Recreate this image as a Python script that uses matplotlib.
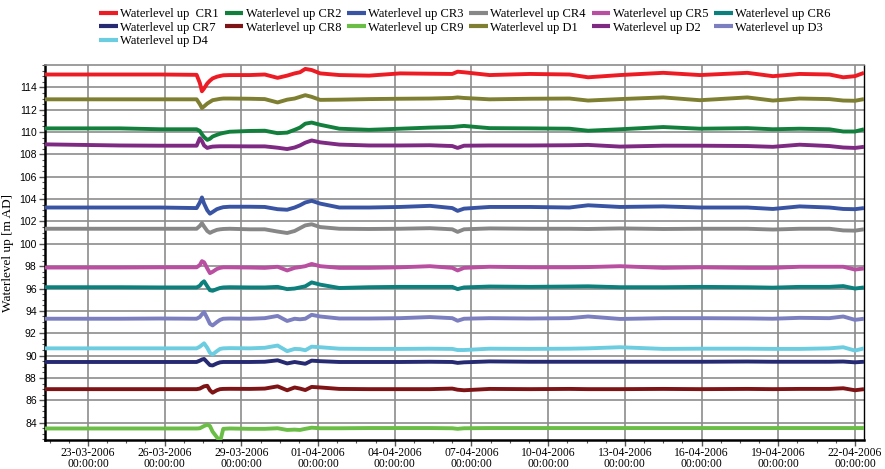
import matplotlib
matplotlib.use("Agg")
import matplotlib.pyplot as plt
import matplotlib.dates as mdates
from matplotlib.ticker import MultipleLocator, FixedLocator
import pandas as pd

# ---- data ----
times = [
    "2006-03-21 07:40", "2006-03-24 06:00", "2006-03-25 20:00", "2006-03-27 06:00",
    "2006-03-27 09:00", "2006-03-27 11:00", "2006-03-27 13:00", "2006-03-27 16:00",
    "2006-03-27 18:30", "2006-03-27 21:00", "2006-03-28 01:00", "2006-03-28 04:00",
    "2006-03-28 07:00", "2006-03-28 13:00", "2006-03-29 08:00", "2006-03-29 22:00",
    "2006-03-30 10:00", "2006-03-30 19:00", "2006-03-31 02:00", "2006-03-31 07:00",
    "2006-03-31 12:00", "2006-03-31 18:00", "2006-04-01 02:00", "2006-04-01 20:00",
    "2006-04-03 00:00", "2006-04-04 05:00", "2006-04-05 09:00", "2006-04-06 06:00",
    "2006-04-06 11:00", "2006-04-06 17:00", "2006-04-07 17:00", "2006-04-09 07:00",
    "2006-04-10 20:00", "2006-04-11 13:30", "2006-04-12 19:30", "2006-04-14 12:00",
    "2006-04-15 22:30", "2006-04-17 19:00", "2006-04-18 19:00", "2006-04-19 20:00",
    "2006-04-21 00:00", "2006-04-21 13:00", "2006-04-22 00:00", "2006-04-22 08:30",
]

cr1 = [115.15, 115.15, 115.15, 115.12, 114.4, 113.65, 113.9, 114.35, 114.6, 114.8, 114.95,
       115.02, 115.08, 115.1, 115.1, 115.15, 114.85, 115.05, 115.25, 115.35, 115.65, 115.55,
       115.25, 115.1, 115.05, 115.25, 115.22, 115.2, 115.4, 115.35, 115.1, 115.2, 115.15,
       114.9, 115.1, 115.3, 115.1, 115.3, 115.0, 115.2, 115.15, 114.9, 115.0, 115.3]
cr2 = [110.33, 110.33, 110.25, 110.25, 110.1, 109.8, 109.55, 109.3, 109.4, 109.6, 109.75,
       109.85, 109.92, 110.03, 110.1, 110.12, 109.9, 109.95, 110.2, 110.4, 110.75, 110.85,
       110.65, 110.3, 110.2, 110.3, 110.4, 110.45, 110.5, 110.55, 110.35, 110.33, 110.3,
       110.12, 110.25, 110.45, 110.3, 110.35, 110.25, 110.3, 110.25, 110.05, 110.05, 110.25]
cr3 = [103.25, 103.25, 103.25, 103.2, 103.7, 104.15, 103.6, 103.0, 102.7, 102.85, 103.1,
       103.2, 103.28, 103.32, 103.32, 103.3, 103.1, 103.05, 103.25, 103.45, 103.7, 103.85,
       103.6, 103.25, 103.25, 103.3, 103.4, 103.2, 102.95, 103.15, 103.3, 103.3, 103.25,
       103.45, 103.3, 103.35, 103.25, 103.25, 103.12, 103.35, 103.25, 103.12, 103.1, 103.2]
cr4 = [101.35, 101.35, 101.35, 101.35, 101.6, 101.85, 101.55, 101.15, 100.98, 101.1, 101.25,
       101.3, 101.33, 101.35, 101.3, 101.3, 101.1, 100.97, 101.15, 101.4, 101.65, 101.75,
       101.5, 101.35, 101.33, 101.35, 101.4, 101.3, 101.07, 101.3, 101.38, 101.35, 101.35,
       101.33, 101.38, 101.33, 101.35, 101.35, 101.28, 101.35, 101.35, 101.2, 101.18, 101.3]
cr5 = [97.88, 97.88, 97.9, 97.9, 98.1, 98.45, 98.35, 97.8, 97.38, 97.5, 97.75,
       97.85, 97.9, 97.9, 97.88, 97.85, 97.95, 97.62, 97.85, 97.92, 98.0, 98.2,
       98.0, 97.85, 97.85, 97.9, 98.0, 97.85, 97.62, 97.85, 97.95, 97.9, 97.9,
       97.92, 98.0, 97.85, 97.9, 97.85, 97.85, 97.95, 97.95, 97.95, 97.7, 97.8]
cr6 = [96.12, 96.12, 96.1, 96.1, 96.25, 96.5, 96.65, 96.2, 95.85, 95.8, 95.95,
       96.05, 96.1, 96.12, 96.1, 96.1, 96.15, 95.95, 96.0, 96.1, 96.2, 96.55,
       96.35, 96.05, 96.12, 96.15, 96.15, 96.15, 95.95, 96.1, 96.18, 96.15, 96.18,
       96.2, 96.12, 96.12, 96.15, 96.12, 96.08, 96.15, 96.15, 96.22, 96.0, 96.1]
cr7 = [89.43, 89.43, 89.43, 89.43, 89.55, 89.65, 89.7, 89.4, 89.15, 89.12, 89.3,
       89.4, 89.43, 89.43, 89.43, 89.45, 89.58, 89.3, 89.43, 89.35, 89.27, 89.55,
       89.5, 89.43, 89.43, 89.43, 89.45, 89.43, 89.35, 89.4, 89.48, 89.45, 89.45,
       89.45, 89.45, 89.45, 89.45, 89.47, 89.45, 89.45, 89.45, 89.47, 89.4, 89.45]
cr8 = [87.0, 87.0, 87.0, 87.0, 87.05, 87.15, 87.25, 87.3, 86.9, 86.68, 86.9,
       87.0, 87.02, 87.03, 87.02, 87.05, 87.25, 86.9, 87.15, 87.05, 86.92, 87.2,
       87.15, 87.02, 87.0, 87.0, 87.0, 87.05, 86.95, 86.9, 87.02, 87.0, 87.02,
       87.0, 87.0, 87.02, 87.0, 87.02, 87.0, 87.02, 87.02, 87.08, 86.9, 87.0]
cr9 = [83.48, 83.48, 83.48, 83.48, 83.5, 83.6, 83.7, 83.82, 83.7, 83.2, 82.7,
       82.3, 83.45, 83.48, 83.45, 83.45, 83.5, 83.35, 83.38, 83.35, 83.45, 83.55,
       83.5, 83.5, 83.52, 83.52, 83.52, 83.5, 83.45, 83.5, 83.52, 83.52, 83.52,
       83.52, 83.52, 83.52, 83.52, 83.52, 83.52, 83.52, 83.52, 83.52, 83.52, 83.52]
d1 = [112.93, 112.93, 112.93, 112.93, 112.5, 112.15, 112.3, 112.55, 112.7, 112.85, 112.92,
      112.97, 113.0, 113.0, 112.98, 112.95, 112.65, 112.9, 113.0, 113.15, 113.3, 113.15,
      112.88, 112.9, 112.95, 112.98, 113.0, 113.05, 113.1, 113.05, 112.93, 112.98, 113.0,
      112.82, 112.95, 113.1, 112.85, 113.1, 112.82, 113.0, 112.95, 112.82, 112.8, 112.95]
d2 = [108.9, 108.8, 108.78, 108.78, 109.45, 109.2, 108.8, 108.58, 108.65, 108.7, 108.72,
      108.73, 108.73, 108.73, 108.72, 108.72, 108.6, 108.48, 108.62, 108.8, 109.05, 109.25,
      109.08, 108.88, 108.8, 108.8, 108.82, 108.75, 108.58, 108.78, 108.8, 108.8, 108.82,
      108.85, 108.7, 108.78, 108.78, 108.75, 108.68, 108.87, 108.75, 108.62, 108.58, 108.68]
d3 = [93.3, 93.3, 93.32, 93.3, 93.45, 93.7, 93.9, 93.35, 92.85, 92.7, 93.0,
      93.2, 93.3, 93.32, 93.3, 93.35, 93.55, 93.1, 93.3, 93.25, 93.3, 93.65,
      93.5, 93.32, 93.32, 93.35, 93.45, 93.35, 93.12, 93.3, 93.35, 93.32, 93.35,
      93.5, 93.28, 93.35, 93.35, 93.33, 93.3, 93.38, 93.35, 93.5, 93.2, 93.3]
d4 = [90.65, 90.65, 90.65, 90.65, 90.8, 90.95, 91.1, 90.7, 90.25, 90.1, 90.4,
      90.6, 90.65, 90.67, 90.65, 90.7, 90.9, 90.4, 90.6, 90.58, 90.48, 90.8,
      90.75, 90.62, 90.6, 90.6, 90.62, 90.6, 90.5, 90.5, 90.62, 90.6, 90.62,
      90.65, 90.75, 90.6, 90.62, 90.62, 90.6, 90.6, 90.65, 90.75, 90.45, 90.65]

labels = ["Waterlevel up  CR1", "Waterlevel up CR2", "Waterlevel up CR3",
          "Waterlevel up CR4", "Waterlevel up CR5", "Waterlevel up CR6",
          "Waterlevel up CR7", "Waterlevel up CR8", "Waterlevel up CR9",
          "Waterlevel up D1", "Waterlevel up D2", "Waterlevel up D3",
          "Waterlevel up D4"]
series = [cr1, cr2, cr3, cr4, cr5, cr6, cr7, cr8, cr9, d1, d2, d3, d4]
colors = ["#ed1c24", "#12803c", "#3a54a4", "#878787", "#b94fa0", "#0b807c",
          "#252a72", "#7e1416", "#6abd45", "#7f7f32", "#7e2a82", "#7b7fc0", "#6ccde0"]

y_label = "Waterlevel up [m AD]"
y_ticks = list(range(84, 116, 2))

# ---- figure ----
W, H = 885, 469
fig = plt.figure(figsize=(W / 100, H / 100), dpi=100)
ax = fig.add_axes([45 / W, 29 / H, (864 - 45) / W, (440 - 65) / H])

x = pd.to_datetime(times)
handles = {}
for lab, vals, col in zip(labels, series, colors):
    (ln,) = ax.plot(x, vals, color=col, lw=2.8, solid_joinstyle="round",
                    solid_capstyle="butt", zorder=3)
    handles[lab] = ln

ax.set_xlim(pd.Timestamp("2006-03-21 07:40"), pd.Timestamp("2006-04-22 08:30"))
ax.set_ylim(82.45, 116.0)

major_x = pd.date_range("2006-03-23", "2006-04-22", freq="3D")
minor_x = pd.date_range("2006-03-21 12:00", "2006-04-22 06:00", freq="18h")
ax.xaxis.set_major_locator(FixedLocator(mdates.date2num(major_x)))
ax.xaxis.set_minor_locator(FixedLocator(mdates.date2num(minor_x)))
ax.xaxis.set_major_formatter(mdates.DateFormatter("%d-%m-%Y\n%H:%M:%S"))
ax.yaxis.set_major_locator(FixedLocator(y_ticks))
ax.yaxis.set_minor_locator(MultipleLocator(0.5))

serif = ["Liberation Serif", "DejaVu Serif"]
for lbl in ax.get_xticklabels():
    lbl.set_fontfamily(serif)
    lbl.set_fontsize(8.4)
    lbl.set_linespacing(0.9)
for lbl in ax.get_yticklabels():
    lbl.set_fontfamily(["Liberation Sans", "DejaVu Sans"])
    lbl.set_fontsize(7.5)

ax.tick_params(axis="both", which="major", direction="out", length=4, width=1, color="#555555", pad=2)
ax.tick_params(axis="both", which="minor", direction="out", length=2, width=0.8, color="#555555")
ax.tick_params(axis="x", which="major", pad=1)

ax.grid(True, which="major", color="#8c8c8c", lw=1.2, zorder=1)

for side in ("left", "bottom"):
    ax.spines[side].set_linewidth(1.8)
    ax.spines[side].set_color("black")
ax.spines["right"].set_linewidth(1.0)
ax.spines["right"].set_color("black")
ax.spines["top"].set_linewidth(1.2)
ax.spines["top"].set_color("#8c8c8c")

ax.set_ylabel(y_label, fontfamily=serif, fontsize=9.5)
ax.yaxis.set_label_coords(-31 / 819, 0.5)

# legend: row-major visual order using column-major fill
order = ["Waterlevel up  CR1", "Waterlevel up CR7", "Waterlevel up D4",
         "Waterlevel up CR2", "Waterlevel up CR8",
         "Waterlevel up CR3", "Waterlevel up CR9",
         "Waterlevel up CR4", "Waterlevel up D1",
         "Waterlevel up CR5", "Waterlevel up D2",
         "Waterlevel up CR6", "Waterlevel up D3"]
leg = fig.legend([handles[k] for k in order], order, ncol=6, loc="upper left",
                 bbox_to_anchor=(99 / W, 1 - 8 / H), frameon=False,
                 prop={"family": serif, "size": 9}, handlelength=1.5,
                 handletextpad=0.2, columnspacing=0.45, labelspacing=0.12,
                 borderaxespad=0, borderpad=0)
for l in leg.get_lines():
    l.set_linewidth(3)

fig.savefig("out.png", dpi=100)
